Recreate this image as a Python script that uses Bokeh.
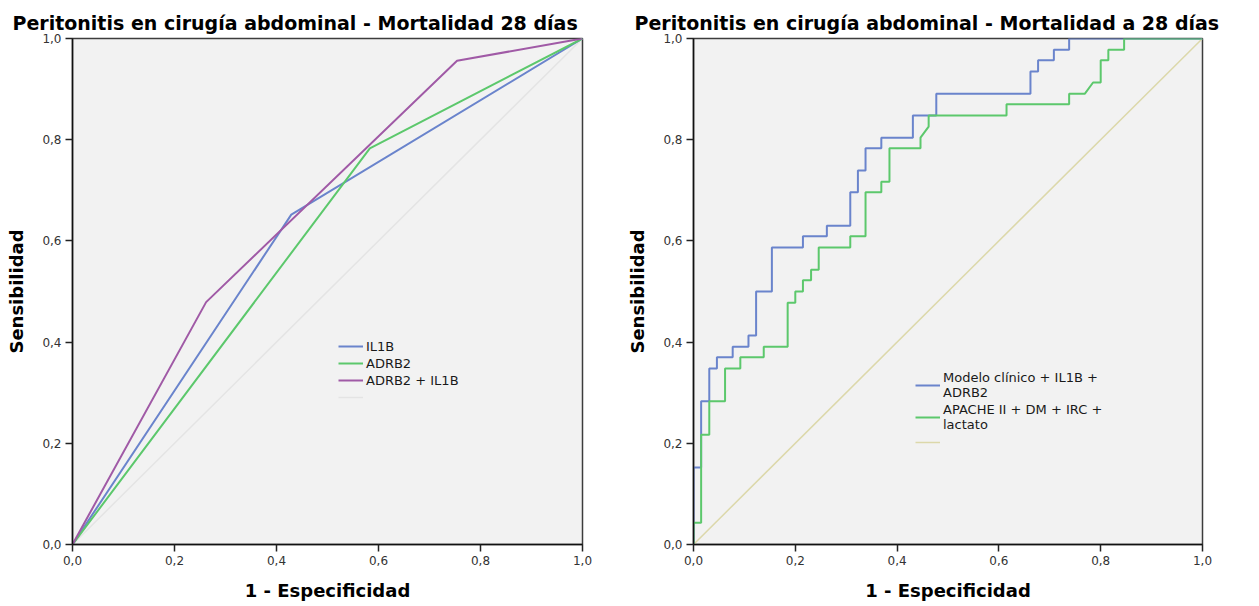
from bokeh.plotting import figure
from bokeh.layouts import row
from bokeh.models import FixedTicker, Legend, LegendItem, Range1d
from bokeh.embed import file_html
from bokeh.resources import INLINE

# Axis ticks (Spanish decimal comma)
tick_values = [0.0, 0.2, 0.4, 0.6, 0.8, 1.0]
tick_labels = ["0,0", "0,2", "0,4", "0,6", "0,8", "1,0"]

# Left panel: single markers and their combination
il1b_fpr = [0.0, 0.429, 1.0]
il1b_sens = [0.0, 0.652, 1.0]
adrb2_fpr = [0.0, 0.583, 1.0]
adrb2_sens = [0.0, 0.783, 1.0]
combo_fpr = [0.0, 0.262, 0.754, 1.0]
combo_sens = [0.0, 0.479, 0.956, 1.0]

# Right panel: clinical model + markers
modelo_fpr = [0.0, 0.0, 0.015, 0.015, 0.031, 0.031, 0.046, 0.046, 0.077, 0.077,
              0.108, 0.108, 0.123, 0.123, 0.154, 0.154, 0.215, 0.215, 0.262, 0.262,
              0.308, 0.308, 0.323, 0.323, 0.338, 0.338, 0.369, 0.369, 0.431, 0.431,
              0.477, 0.477, 0.662, 0.662, 0.677, 0.677, 0.708, 0.708, 0.738, 0.738, 1.0]
modelo_sens = [0.0, 0.152, 0.152, 0.283, 0.283, 0.348, 0.348, 0.370, 0.370, 0.391,
               0.391, 0.413, 0.413, 0.500, 0.500, 0.587, 0.587, 0.609, 0.609, 0.630,
               0.630, 0.696, 0.696, 0.739, 0.739, 0.783, 0.783, 0.804, 0.804, 0.848,
               0.848, 0.891, 0.891, 0.935, 0.935, 0.957, 0.957, 0.978, 0.978, 1.0, 1.0]

# Right panel: APACHE II + DM + IRC + lactato
apache_fpr = [0.0, 0.0, 0.015, 0.015, 0.031, 0.031, 0.062, 0.062, 0.092, 0.092,
              0.138, 0.138, 0.185, 0.185, 0.200, 0.200, 0.215, 0.215, 0.231, 0.231,
              0.246, 0.246, 0.308, 0.308, 0.338, 0.338, 0.369, 0.369, 0.385, 0.385,
              0.446, 0.446, 0.462, 0.462, 0.615, 0.615, 0.738, 0.738, 0.769, 0.785,
              0.800, 0.800, 0.815, 0.815, 0.846, 0.846, 1.0]
apache_sens = [0.0, 0.043, 0.043, 0.217, 0.217, 0.283, 0.283, 0.348, 0.348, 0.370,
               0.370, 0.391, 0.391, 0.478, 0.478, 0.500, 0.500, 0.522, 0.522, 0.543,
               0.543, 0.587, 0.587, 0.609, 0.609, 0.696, 0.696, 0.717, 0.717, 0.783,
               0.783, 0.804, 0.826, 0.848, 0.848, 0.870, 0.870, 0.891, 0.891, 0.913,
               0.913, 0.957, 0.957, 0.978, 0.978, 1.0, 1.0]

# Reference diagonal
diag = [0.0, 1.0]

FONT = "DejaVu Sans"
BLUE = "#6a84cc"
GREEN = "#5cc86c"
PURPLE = "#a05aa6"


def make_panel(width, title, left, right, top, bottom, title_shift):
    p = figure(width=width, height=606, x_range=Range1d(0, 1), y_range=Range1d(0, 1),
               output_backend="svg", toolbar_location=None,
               min_border_left=left, min_border_right=right,
               min_border_top=top, min_border_bottom=bottom,
               background_fill_color="#f2f2f2", border_fill_color="white")
    p.title.text = title
    p.title.text_font = FONT
    p.title.text_font_size = "19px"
    p.title.text_font_style = "bold"
    p.title.text_color = "black"
    p.title.align = "left"
    p.title.offset = title_shift
    p.title.standoff = 9
    p.outline_line_color = "#3c3c3c"
    p.outline_line_width = 1.5
    p.xgrid.visible = False
    p.ygrid.visible = False
    overrides = dict(zip(tick_values, tick_labels))
    for ax, lab in ((p.xaxis, "1 - Especificidad"), (p.yaxis, "Sensibilidad")):
        ax.ticker = FixedTicker(ticks=tick_values)
        ax.major_label_overrides = overrides
        ax.minor_tick_line_color = None
        ax.major_tick_in = 0
        ax.major_tick_out = 7
        ax.major_tick_line_color = "#222222"
        ax.major_tick_line_width = 1.5
        ax.axis_line_color = "#111111"
        ax.axis_line_width = 1.5
        ax.major_label_text_font = FONT
        ax.major_label_text_font_size = "12px"
        ax.major_label_text_color = "#333333"
        ax.major_label_standoff = 4
        ax.axis_label = lab
        ax.axis_label_text_font = FONT
        ax.axis_label_text_font_size = "18px"
        ax.axis_label_text_font_style = "bold"
        ax.axis_label_text_color = "black"
        ax.axis_label_standoff = 12
    return p


def style_legend(leg, loc, spacing, line_height):
    leg.location = loc
    leg.background_fill_alpha = 0
    leg.border_line_alpha = 0
    leg.padding = 0
    leg.margin = 0
    leg.spacing = spacing
    leg.glyph_width = 25
    leg.glyph_height = 16
    leg.label_height = 16
    leg.label_standoff = 3
    leg.label_text_font = FONT
    leg.label_text_font_size = "13px"
    leg.label_text_color = "#1a1a1a"
    leg.label_text_line_height = line_height


# Left panel
p1 = make_panel(620, "Peritonitis en cirugía abdominal - Mortalidad 28 días",
                72, 38, 36, 62, -60)
d1 = p1.line(diag, diag, line_color="#e4e4e4", line_width=1.5)
r_il1b = p1.line(il1b_fpr, il1b_sens, line_color=BLUE, line_width=2)
r_adrb2 = p1.line(adrb2_fpr, adrb2_sens, line_color=GREEN, line_width=2)
r_combo = p1.line(combo_fpr, combo_sens, line_color=PURPLE, line_width=2)
leg1 = Legend(items=[LegendItem(label="IL1B", renderers=[r_il1b]),
                     LegendItem(label="ADRB2", renderers=[r_adrb2]),
                     LegendItem(label="ADRB2 + IL1B", renderers=[r_combo]),
                     LegendItem(label=" ", renderers=[d1])])
style_legend(leg1, (266, 139), 1, 1.0)
p1.add_layout(leg1)

# Right panel
p2 = make_panel(639, "Peritonitis en cirugía abdominal - Mortalidad a 28 días",
                73, 57, 38, 59, -59)
d2 = p2.line(diag, diag, line_color="#dcd8aa", line_width=1.5)
r_modelo = p2.line(modelo_fpr, modelo_sens, line_color=BLUE, line_width=2)
r_apache = p2.line(apache_fpr, apache_sens, line_color=GREEN, line_width=2)
leg2 = Legend(items=[LegendItem(label="Modelo clínico + IL1B +\nADRB2", renderers=[r_modelo]),
                     LegendItem(label="APACHE II + DM + IRC +\nlactato", renderers=[r_apache]),
                     LegendItem(label=" ", renderers=[d2])])
style_legend(leg2, (222, 94), 2, 0.9)
p2.add_layout(leg2)

layout = row(p1, p2)
open("out.html", "w").write(file_html(layout, INLINE))
